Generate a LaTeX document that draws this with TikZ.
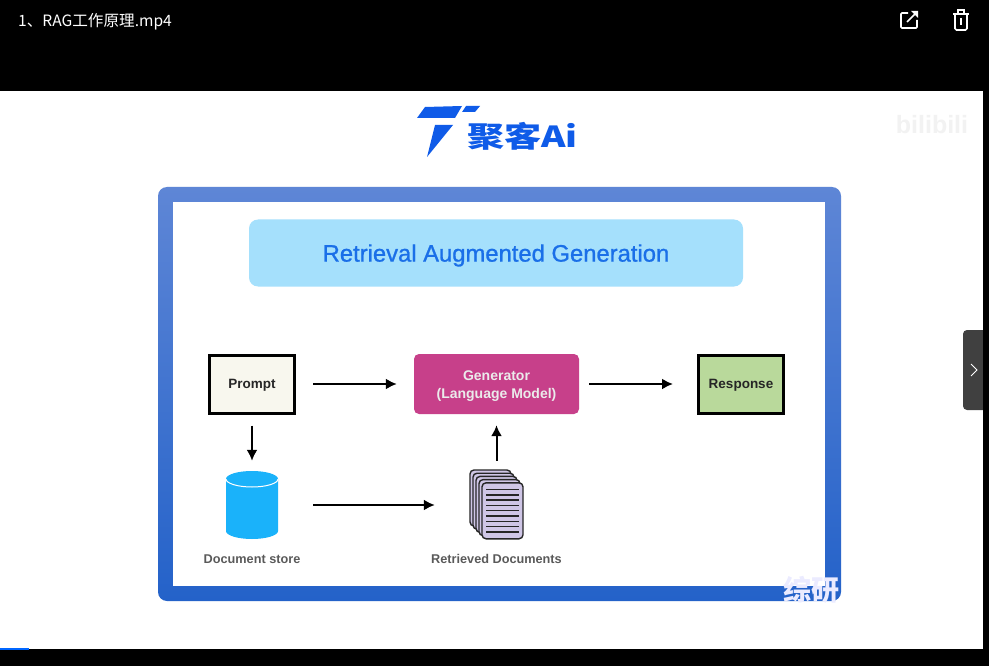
\documentclass[tikz,border=0pt]{standalone}
\usepackage{graphicx}
\usepackage{fontspec}
\setmainfont{Liberation Sans}
\newfontfamily\cjkfont{Noto Sans CJK SC}
\newfontfamily\titlefont[FakeBold=1]{Liberation Sans}
\usetikzlibrary{shapes.geometric}
\usetikzlibrary{positioning}
\usetikzlibrary{arrows.meta}
\definecolor{logoblue}{HTML}{0F5BE8}
\definecolor{framelight}{HTML}{5E86D6}
\definecolor{framedark}{HTML}{2462C9}
\definecolor{barblue}{HTML}{A5E0FC}
\definecolor{titleblue}{HTML}{1A6FE8}
\definecolor{genpink}{HTML}{C7408A}
\definecolor{respgreen}{HTML}{B9D99B}
\definecolor{promptwhite}{HTML}{F8F7EE}
\definecolor{storeblue}{HTML}{1AB2FA}
\definecolor{sheetlilac}{HTML}{CFC6E6}
\definecolor{capgray}{HTML}{5A5A5A}
\tikzset{
    mybox/.style = {draw=black, line width=3pt, minimum width=85pt, minimum height=58pt, align=center, text=black!85, text depth=0pt, font=\fontsize{13.5}{15}\selectfont\bfseries},
    mygen/.style = {fill=genpink, rounded corners=5pt, minimum width=165pt, minimum height=60pt, align=center, text=white!92!black, font=\fontsize{14}{18}\selectfont\bfseries},
    mycap/.style = {text=capgray, font=\fontsize{12.7}{14}\selectfont\bfseries},
    mysheet/.style = {draw=black!85, line width=1.4pt, fill=sheetlilac, rounded corners=4pt},
    edgen/.style = {-{Latex[length=11pt,width=11pt]}, line width=2pt, black},
    myicon/.style = {white, line width=1.6pt}
}
\begin{document}
\begin{tikzpicture}[x=1pt,y=-1pt]
  \useasboundingbox (0,0) rectangle (989,666);
  % video player
  \fill[black] (0,0) rectangle (989,666);
  \fill[white] (0,91) rectangle (983,649);
  \fill[blue!60!cyan] (0,648) rectangle (29,650);
  \node at (18,22) [anchor=west,inner sep=0pt,text=white,font=\fontsize{15.6}{17}\selectfont\cjkfont] (filename) {1、RAG工作原理.mp4};
  \draw[myicon,rounded corners=1pt] (908,13) -- (901,13) -- (901,28) -- (917,28) -- (917,20);
  \draw[myicon] (907,22) -- (917,12);
  \fill[white] (911,11) -- (918,11) -- (918,18) -- cycle;
  \draw[myicon] (953,14) -- (969,14);
  \draw[myicon] (958,13) -- (958,10) -- (964,10) -- (964,13);
  \draw[myicon,rounded corners=1.5pt] (955,14) -- (955,30) -- (967,30) -- (967,14);
  \draw[myicon] (961,18) -- (961,25);
  \fill[black!75,rounded corners=4pt] (963,330) rectangle (990,410);
  \fill[black] (983,325) rectangle (989,415);
  \draw[white,line width=1pt] (971,364) -- (977,370) -- (971,376);
  % logo
  \fill[logoblue] (417,118) -- (425,107) -- (462,106) -- (455,118) -- cycle;
  \fill[logoblue] (466,106) -- (480,106) -- (475,112) -- (462,112) -- cycle;
  \fill[logoblue] (435,125) -- (453,125) -- (427,157) -- cycle;
  \node at (522.5,136) [inner sep=0pt,text=logoblue,font=\fontsize{29}{30}\selectfont\cjkfont\bfseries] (logotext) {\scalebox{1.28}[1]{聚客Ai}};
  % watermarks
  \node at (932,125) [inner sep=0pt,text=black!5,font=\fontsize{25}{26}\selectfont\bfseries] (bili) {bilibili};
  % frame
  \shade[top color=framelight,bottom color=framedark,rounded corners=9pt] (158,187) rectangle (841,601);
  \fill[white] (173,202) rectangle (825,586);
  \node at (811,590) [inner sep=0pt,text=blue!8,font=\fontsize{28}{28}\selectfont\cjkfont\bfseries] (mark) {综研};
  \node at (496,253) [fill=barblue,rounded corners=9pt,minimum width=494pt,minimum height=67pt,text=titleblue,text depth=0pt,font=\fontsize{23.8}{26}\selectfont\titlefont] (title) {Retrieval Augmented Generation};
  % boxes
  \node at (252,384) [mybox,fill=promptwhite] (prompt) {Prompt};
  \node at (496.5,384) [mygen] (generator) {\rule{0pt}{13.5pt}Generator\\(Language Model)};
  \node at (741,384) [mybox,fill=respgreen] (response) {Response};
  \node at (252,505) [minimum width=52pt,minimum height=68pt,inner sep=0pt] (store) {};
  \fill[storeblue] (226,479) arc[start angle=180,end angle=0,x radius=26pt,y radius=8pt] -- (278,531) arc[start angle=0,end angle=-180,x radius=26pt,y radius=8pt] -- cycle;
  \draw[white,line width=1pt] (226,479) arc[start angle=180,end angle=360,x radius=26pt,y radius=8pt];
  \node at (496.5,505) [minimum width=55pt,minimum height=70pt,inner sep=0pt] (retrieved) {};
  \foreach \i in {0,...,4}
    \draw[mysheet] (470+3*\i,470+3.2*\i) rectangle (511+3*\i,526+3.2*\i);
  \foreach \j in {0,...,8}
    \draw[black!85,line width=1.5pt] (486,489.5+5.3*\j) -- (519,489.5+5.3*\j);
  \node at (252,559) [mycap] (storecap) {Document store};
  \node at (496.5,559) [mycap] (retrievedcap) {Retrieved Documents};
  % arrows
  \draw[edgen,shorten <=17pt,shorten >=17pt] (prompt) -- (generator);
  \draw[edgen,shorten <=10pt,shorten >=24pt] (generator) -- (response);
  \draw[edgen,shorten <=11pt,shorten >=10pt] (prompt) -- (store);
  \draw[edgen,shorten <=35pt,shorten >=34pt] (store) -- (retrieved);
  \draw[edgen,shorten <=9pt,shorten >=11pt] (retrieved) -- (generator);
\end{tikzpicture}
\end{document}
